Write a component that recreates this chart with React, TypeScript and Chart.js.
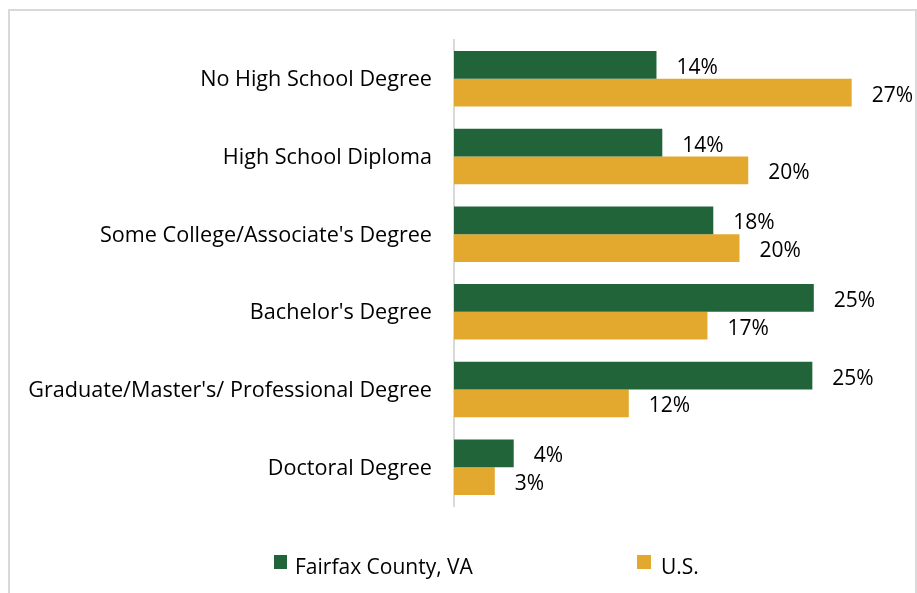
import React, { useEffect, useRef } from "react";
import { Chart, registerables } from "chart.js";

Chart.register(...registerables);

const categories = [
  "No High School Degree",
  "High School Diploma",
  "Some College/Associate's Degree",
  "Bachelor's Degree",
  "Graduate/Master's/ Professional Degree",
  "Doctoral Degree",
];
const fairfaxValues = [13.9, 14.3, 17.8, 24.7, 24.6, 4.1];
const usValues = [27.3, 20.2, 19.6, 17.4, 12.0, 2.8];
const seriesNames = ["Fairfax County, VA", "U.S."];
const seriesColors = ["#22643A", "#E3A82E"];

const FONT = "'Open Sans', 'Liberation Sans', sans-serif";

const valueLabels = {
  id: "valueLabels",
  afterDatasetsDraw(chart: any) {
    const ctx = chart.ctx;
    ctx.save();
    ctx.font = `21px ${FONT}`;
    ctx.fillStyle = "#000";
    ctx.textBaseline = "middle";
    ctx.textAlign = "left";
    chart.data.datasets.forEach((ds: any, i: number) => {
      const meta = chart.getDatasetMeta(i);
      meta.data.forEach((bar: any, j: number) => {
        ctx.fillText(Math.round(ds.data[j]) + "%", bar.x + 20, bar.y + 3);
      });
    });
    ctx.restore();
  },
};

export default function App() {
  const ref = useRef<HTMLCanvasElement | null>(null);

  useEffect(() => {
    if (!ref.current) return;
    const chart = new Chart(ref.current, {
      type: "bar",
      data: {
        labels: categories,
        datasets: [
          {
            label: seriesNames[0],
            data: fairfaxValues,
            backgroundColor: seriesColors[0],
            borderWidth: 0,
            categoryPercentage: 0.714,
            barPercentage: 1,
          },
          {
            label: seriesNames[1],
            data: usValues,
            backgroundColor: seriesColors[1],
            borderWidth: 0,
            categoryPercentage: 0.714,
            barPercentage: 1,
          },
        ],
      },
      options: {
        indexAxis: "y",
        responsive: false,
        animation: false,
        layout: { padding: { top: 40, bottom: 87, left: 0, right: 26 } },
        plugins: {
          legend: { display: false },
          tooltip: { enabled: false },
        },
        scales: {
          x: { display: false, min: 0, max: 30 },
          y: {
            afterFit: (scale: any) => {
              scale.width = 454;
            },
            grid: { display: false, drawTicks: false },
            border: { display: true, color: "#d9d9d9", width: 2 },
            ticks: {
              padding: 22,
              labelOffset: 1.5,
              color: "#000",
              font: { family: FONT, size: 21.6 },
            },
          },
        },
      },
      plugins: [valueLabels],
    });
    return () => chart.destroy();
  }, []);

  const legendText: React.CSSProperties = {
    position: "fixed",
    fontFamily: FONT,
    fontSize: 21,
    lineHeight: "22px",
    color: "#000",
    whiteSpace: "nowrap",
  };

  return (
    <div>
      <div
        style={{
          position: "fixed",
          left: 8,
          top: 9,
          width: 909,
          height: 620,
          border: "2px solid #d9d9d9",
          boxSizing: "border-box",
        }}
      />
      <canvas
        ref={ref}
        width={917}
        height={593}
        style={{ position: "fixed", left: 0, top: 0 }}
      />
      <div style={{ position: "fixed", left: 274, top: 555, width: 13, height: 14, background: seriesColors[0] }} />
      <div style={{ ...legendText, left: 295, top: 555 }}>{seriesNames[0]}</div>
      <div style={{ position: "fixed", left: 637, top: 555, width: 14, height: 14, background: seriesColors[1] }} />
      <div style={{ ...legendText, left: 661, top: 555 }}>{seriesNames[1]}</div>
    </div>
  );
}
